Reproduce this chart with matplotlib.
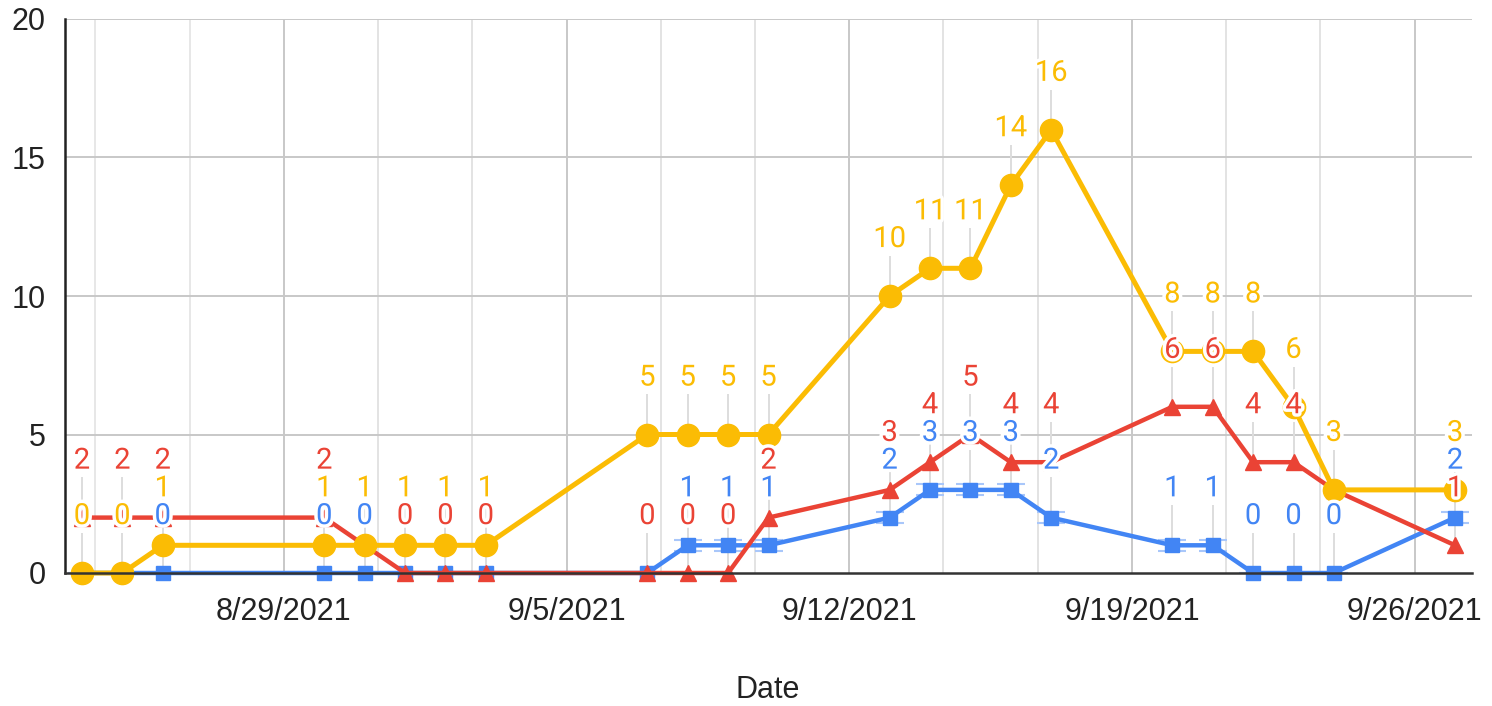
from datetime import datetime, timedelta
import matplotlib
matplotlib.use("Agg")
import matplotlib.pyplot as plt
import matplotlib.dates as mdates
import matplotlib.patheffects as pe
from matplotlib.ticker import FuncFormatter, FixedLocator

# data
dates = ["2021-08-24", "2021-08-25", "2021-08-26", "2021-08-30", "2021-08-31",
         "2021-09-01", "2021-09-02", "2021-09-03", "2021-09-07", "2021-09-08",
         "2021-09-09", "2021-09-10", "2021-09-13", "2021-09-14", "2021-09-15",
         "2021-09-16", "2021-09-17", "2021-09-20", "2021-09-21", "2021-09-22",
         "2021-09-23", "2021-09-24", "2021-09-27"]
yellow_vals = [0, 0, 1, 1, 1, 1, 1, 1, 5, 5, 5, 5, 10, 11, 11, 14, 16, 8, 8, 8, 6, 3, 3]
red_vals = [2, 2, 2, 2, 1, 0, 0, 0, 0, 0, 0, 2, 3, 4, 5, 4, 4, 6, 6, 4, 4, 3, 1]
blue_vals = [0, 0, 0, 0, 0, 0, 0, 0, 0, 1, 1, 1, 2, 3, 3, 3, 2, 1, 1, 0, 0, 0, 2]
blue_err = [0, 0, 0, 0, 0, 0, 0, 0, 0, 0.2, 0.2, 0.2, 0.2, 0.2, 0.2, 0.2, 0.2,
            0.2, 0.2, 0, 0, 0, 0.2]
week_ticks = ["2021-08-29", "2021-09-05", "2021-09-12", "2021-09-19", "2021-09-26"]

YELLOW = "#FBBC04"
RED = "#EA4335"
BLUE = "#4285F4"

x = [datetime.strptime(d, "%Y-%m-%d") for d in dates]
ticks = [datetime.strptime(d, "%Y-%m-%d") for d in week_ticks]

fig = plt.figure(figsize=(14.92, 7.06), dpi=100)
ax = fig.add_axes([65 / 1492, 1 - 573 / 706, (1472 - 65) / 1492, (573 - 19) / 706])

# grid
minor = []
for t in ticks:
    for k in (-2, -1, 1, 2):
        minor.append(t + timedelta(days=7 * k / 3))
for m in minor:
    ax.axvline(m, color="#e3e3e3", lw=1.2, zorder=0)
for t in ticks:
    ax.axvline(t, color="#c8c8c8", lw=1.4, zorder=0)
for yv in [5, 10, 15, 20]:
    ax.axhline(yv, color="#c8c8c8", lw=1.4, zorder=0)

# series (blue bottom, red, yellow on top)
ax.errorbar(x, blue_vals, yerr=blue_err, fmt="none", ecolor="#a9c7fa",
            elinewidth=0, capsize=10, capthick=1.5, zorder=2)
ax.plot(x, blue_vals, color=BLUE, lw=3.2, marker="s", markersize=10, zorder=3,
        clip_on=False)
ax.plot(x, red_vals, color=RED, lw=3.2, marker="^", markersize=12, zorder=4,
        clip_on=False)
ax.plot(x, yellow_vals, color=YELLOW, lw=3.6, marker="o", markersize=16, zorder=5,
        clip_on=False)

# data labels: yellow first, then red, then blue; skip a label that would overlap
placed = {}
for vals, col in [(yellow_vals, YELLOW), (red_vals, RED), (blue_vals, BLUE)]:
    for xi, v in zip(x, vals):
        taken = placed.setdefault(xi, [])
        if any(abs(v - t) < 0.75 for t in taken):
            continue
        taken.append(v)
        ax.vlines(xi, v, v + 1.45, color="#dddddd", lw=1.4, zorder=1)
        ax.annotate(str(v), (xi, v), xytext=(0, 41), textcoords="offset points",
                    ha="center", va="center", color=col, fontsize=21,
                    family=["Roboto", "DejaVu Sans"], zorder=10,
                    path_effects=[pe.withStroke(linewidth=5, foreground="white")])

ax.set_ylim(0, 20)
ax.set_yticks([0, 5, 10, 15, 20])
ax.set_xlim(x[0] - timedelta(days=0.42), x[-1] + timedelta(days=0.42))
ax.xaxis.set_major_locator(FixedLocator(mdates.date2num(ticks)))
ax.xaxis.set_major_formatter(FuncFormatter(
    lambda v, p: "{}/{}/{}".format(mdates.num2date(v).month, mdates.num2date(v).day,
                                   mdates.num2date(v).year)))

for s in ["top", "right"]:
    ax.spines[s].set_visible(False)
ax.spines["left"].set_color("#222222")
ax.spines["left"].set_linewidth(1.8)
ax.spines["bottom"].set_color("#333333")
ax.spines["bottom"].set_linewidth(1.8)
ax.spines["bottom"].set_zorder(6)
ax.tick_params(axis="both", length=0, labelsize=22, colors="#222222")
ax.tick_params(axis="x", pad=17)
ax.tick_params(axis="y", pad=14)
for lab in ax.get_xticklabels() + ax.get_yticklabels():
    lab.set_family("Liberation Sans")

fig.text(768 / 1492, 1 - 690 / 706, "Date", ha="center", va="center",
         fontsize=22, color="#222222", family="Liberation Sans")

fig.savefig("out.png", dpi=100)
